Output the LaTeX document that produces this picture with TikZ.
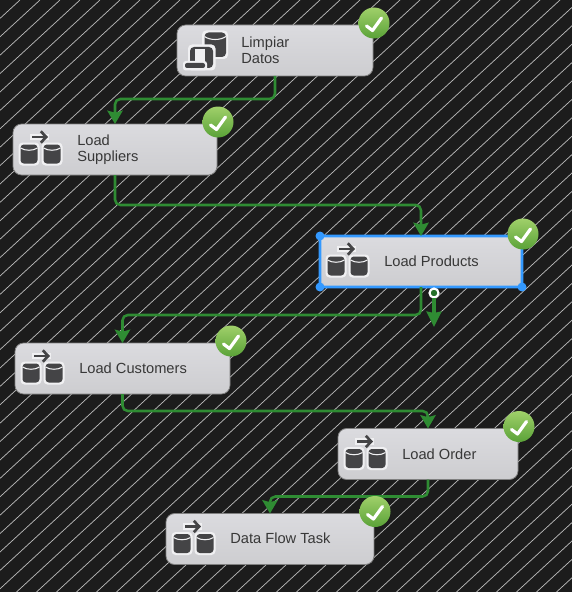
\documentclass[tikz,border=0pt]{standalone}
\usepackage{fontspec}
\setmainfont{Liberation Sans}
\usetikzlibrary{arrows.meta}
\definecolor{canvasdark}{HTML}{1C1C1C}
\definecolor{flowgreen}{HTML}{2F8C33}
\definecolor{selblue}{HTML}{3399FF}
\definecolor{icondark}{HTML}{444446}
\definecolor{iconhalo}{HTML}{F0F0F2}
\definecolor{boxtop}{HTML}{DBDBDF}
\definecolor{boxbottom}{HTML}{CDCDD0}
\definecolor{badgetop}{HTML}{A0D06A}
\definecolor{badgebottom}{HTML}{5AA238}
\tikzset{
  task/.style={draw=black!50, line width=0.6pt, rounded corners=6.5pt, top color=boxtop, bottom color=boxbottom,
    minimum height=51*0.75pt, inner sep=0pt, outer sep=0pt},
  selected/.style={draw=selblue, line width=2.2pt, rounded corners=2.5pt},
  tasklabel/.style={anchor=west, align=left, inner sep=0pt, text=black!78, font=\fontsize{11}{11.8}\selectfont},
  flow/.style={draw=flowgreen, line width=1.9pt, rounded corners=4pt, -{Stealth[width=11.5pt,length=10pt,inset=1.5pt]}},
  flowout/.style={draw=flowgreen, line width=2.6pt, -{Stealth[width=11pt,length=11.5pt,inset=1pt]}},
  grip/.style={circle, draw=white, fill=flowgreen!80!black, line width=1.6pt, minimum size=9*0.75pt, inner sep=0pt, outer sep=0pt},
  okbadge/.pic={
    \shade[top color=badgetop, bottom color=badgebottom] (0,0) circle (15.5);
    \draw[white, line width=2.4pt, line cap=round, line join=round] (-7.5,3) -- (-1.5,7.5) -- (7.5,-5);
  },
  dbcyl/.pic={
    \fill[iconhalo, rounded corners=3pt] (-10.5,-11.5) rectangle (10.5,11.5);
    \fill[icondark, rounded corners=2.5pt] (-8.5,-9.5) rectangle (8.5,9.5);
    \draw[iconhalo, line width=0.8pt] (-8.5,-6) .. controls (-4,-3) and (4,-3) .. (8.5,-6);
  },
  loadicon/.pic={
    \pic at (16,4.5) {dbcyl};
    \pic at (39,4.5) {dbcyl};
    \draw[iconhalo, line width=5pt] (17,-12.5) -- (36,-12.5);
    \draw[icondark, line width=2pt, -{Straight Barb[length=4pt,width=8.5pt]}] (19,-12.5) -- (35,-12.5);
  },
  scripticon/.pic={
    \fill[iconhalo, rounded corners=3pt] (25,-20) rectangle (51,8.5);
    \fill[icondark, rounded corners=3pt] (27.5,-18) rectangle (49,6.5);
    \draw[iconhalo, line width=0.8pt] (27.5,-14) .. controls (33,-10) and (43,-10) .. (49,-14);
    \fill[iconhalo, rounded corners=3pt] (11,-6) rectangle (38.5,20);
    \fill[icondark, rounded corners=3pt] (13,-3.5) rectangle (36,17.5);
    \fill[iconhalo] (18,-1.5) rectangle (28,14);
    \fill[iconhalo, rounded corners=2pt] (6,10.5) rectangle (30,20);
    \fill[icondark, rounded corners=1.5pt] (8,12.5) rectangle (28,17.5);
  }
}

\begin{document}
\begin{tikzpicture}[x=0.75pt,y=-0.75pt]
\useasboundingbox (0,0) rectangle (572,592);
% Hatched canvas
\fill[canvasdark] (0,0) rectangle (572,592);
\begin{scope}
\clip (0,0) rectangle (572,592);
\foreach \n in {1,...,62}
  \draw[white!72!black, line width=0.55pt] (20*\n,0) -- (0,18.4*\n);
\end{scope}

% Package tasks
\node[task, minimum width=196*0.75pt] (limpiar) at (275,50.5) {};
\node[task, minimum width=204*0.75pt] (suppliers) at (115,149.5) {};
\node[task, selected, minimum width=202*0.75pt] (products) at (421,261.5) {};
\node[task, minimum width=215*0.75pt] (customers) at (122.5,368.5) {};
\node[task, minimum width=180*0.75pt] (order) at (428,454) {};
\node[task, minimum width=208*0.75pt] (dataflow) at (270,539) {};

% Task texts
\node[tasklabel] (limpiarText) at ([xshift=48pt,yshift=0.2pt]limpiar.west) {Limpiar\\Datos};
\node[tasklabel] (suppliersText) at ([xshift=48pt,yshift=-0.4pt]suppliers.west) {Load\\Suppliers};
\node[tasklabel] (productsText) at ([xshift=48pt]products.west) {Load Products};
\node[tasklabel] (customersText) at ([xshift=48pt]customers.west) {Load Customers};
\node[tasklabel] (orderText) at ([xshift=48pt]order.west) {Load Order};
\node[tasklabel] (dataflowText) at ([xshift=48pt,yshift=0.6pt]dataflow.west) {Data Flow Task};

% Task icons
\pic at (limpiar.west) {scripticon};
\pic at (suppliers.west) {loadicon};
\pic at (products.west) {loadicon};
\pic at (customers.west) {loadicon};
\pic at (order.west) {loadicon};
\pic at (dataflow.west) {loadicon};

% Precedence constraints
\draw[flow] (limpiar.south) -- ++(0,23) -| (suppliers.north);
\draw[flow] (suppliers.south) -- ++(0,30) -| (products.north);
\draw[flow] (products.south) -- ++(0,28) -| (customers.north);
\draw[flow] (customers.south) -- ++(0,17) -| (order.north);
\draw[flow] (order.south) -- ++(0,17) -| (dataflow.north);

% Unconnected output of the selected task
\node[grip] (productsGrip) at (434,293) {};
\coordinate (productsFree) at (434,327);
\draw[flowout] (productsGrip.south) -- (productsFree);

% Selection handles
\foreach \c in {north west,south west,south east,north east}
  \fill[selblue] (products.\c) circle (4.5);

% Status marks
\pic at ([shift={(1,-2)}]limpiar.north east) {okbadge};
\pic at ([shift={(1,-2)}]suppliers.north east) {okbadge};
\pic at ([shift={(1,-2)}]products.north east) {okbadge};
\pic at ([shift={(1,-2)}]customers.north east) {okbadge};
\pic at ([shift={(1,-2)}]order.north east) {okbadge};
\pic at ([shift={(1,-2)}]dataflow.north east) {okbadge};
\end{tikzpicture}
\end{document}
